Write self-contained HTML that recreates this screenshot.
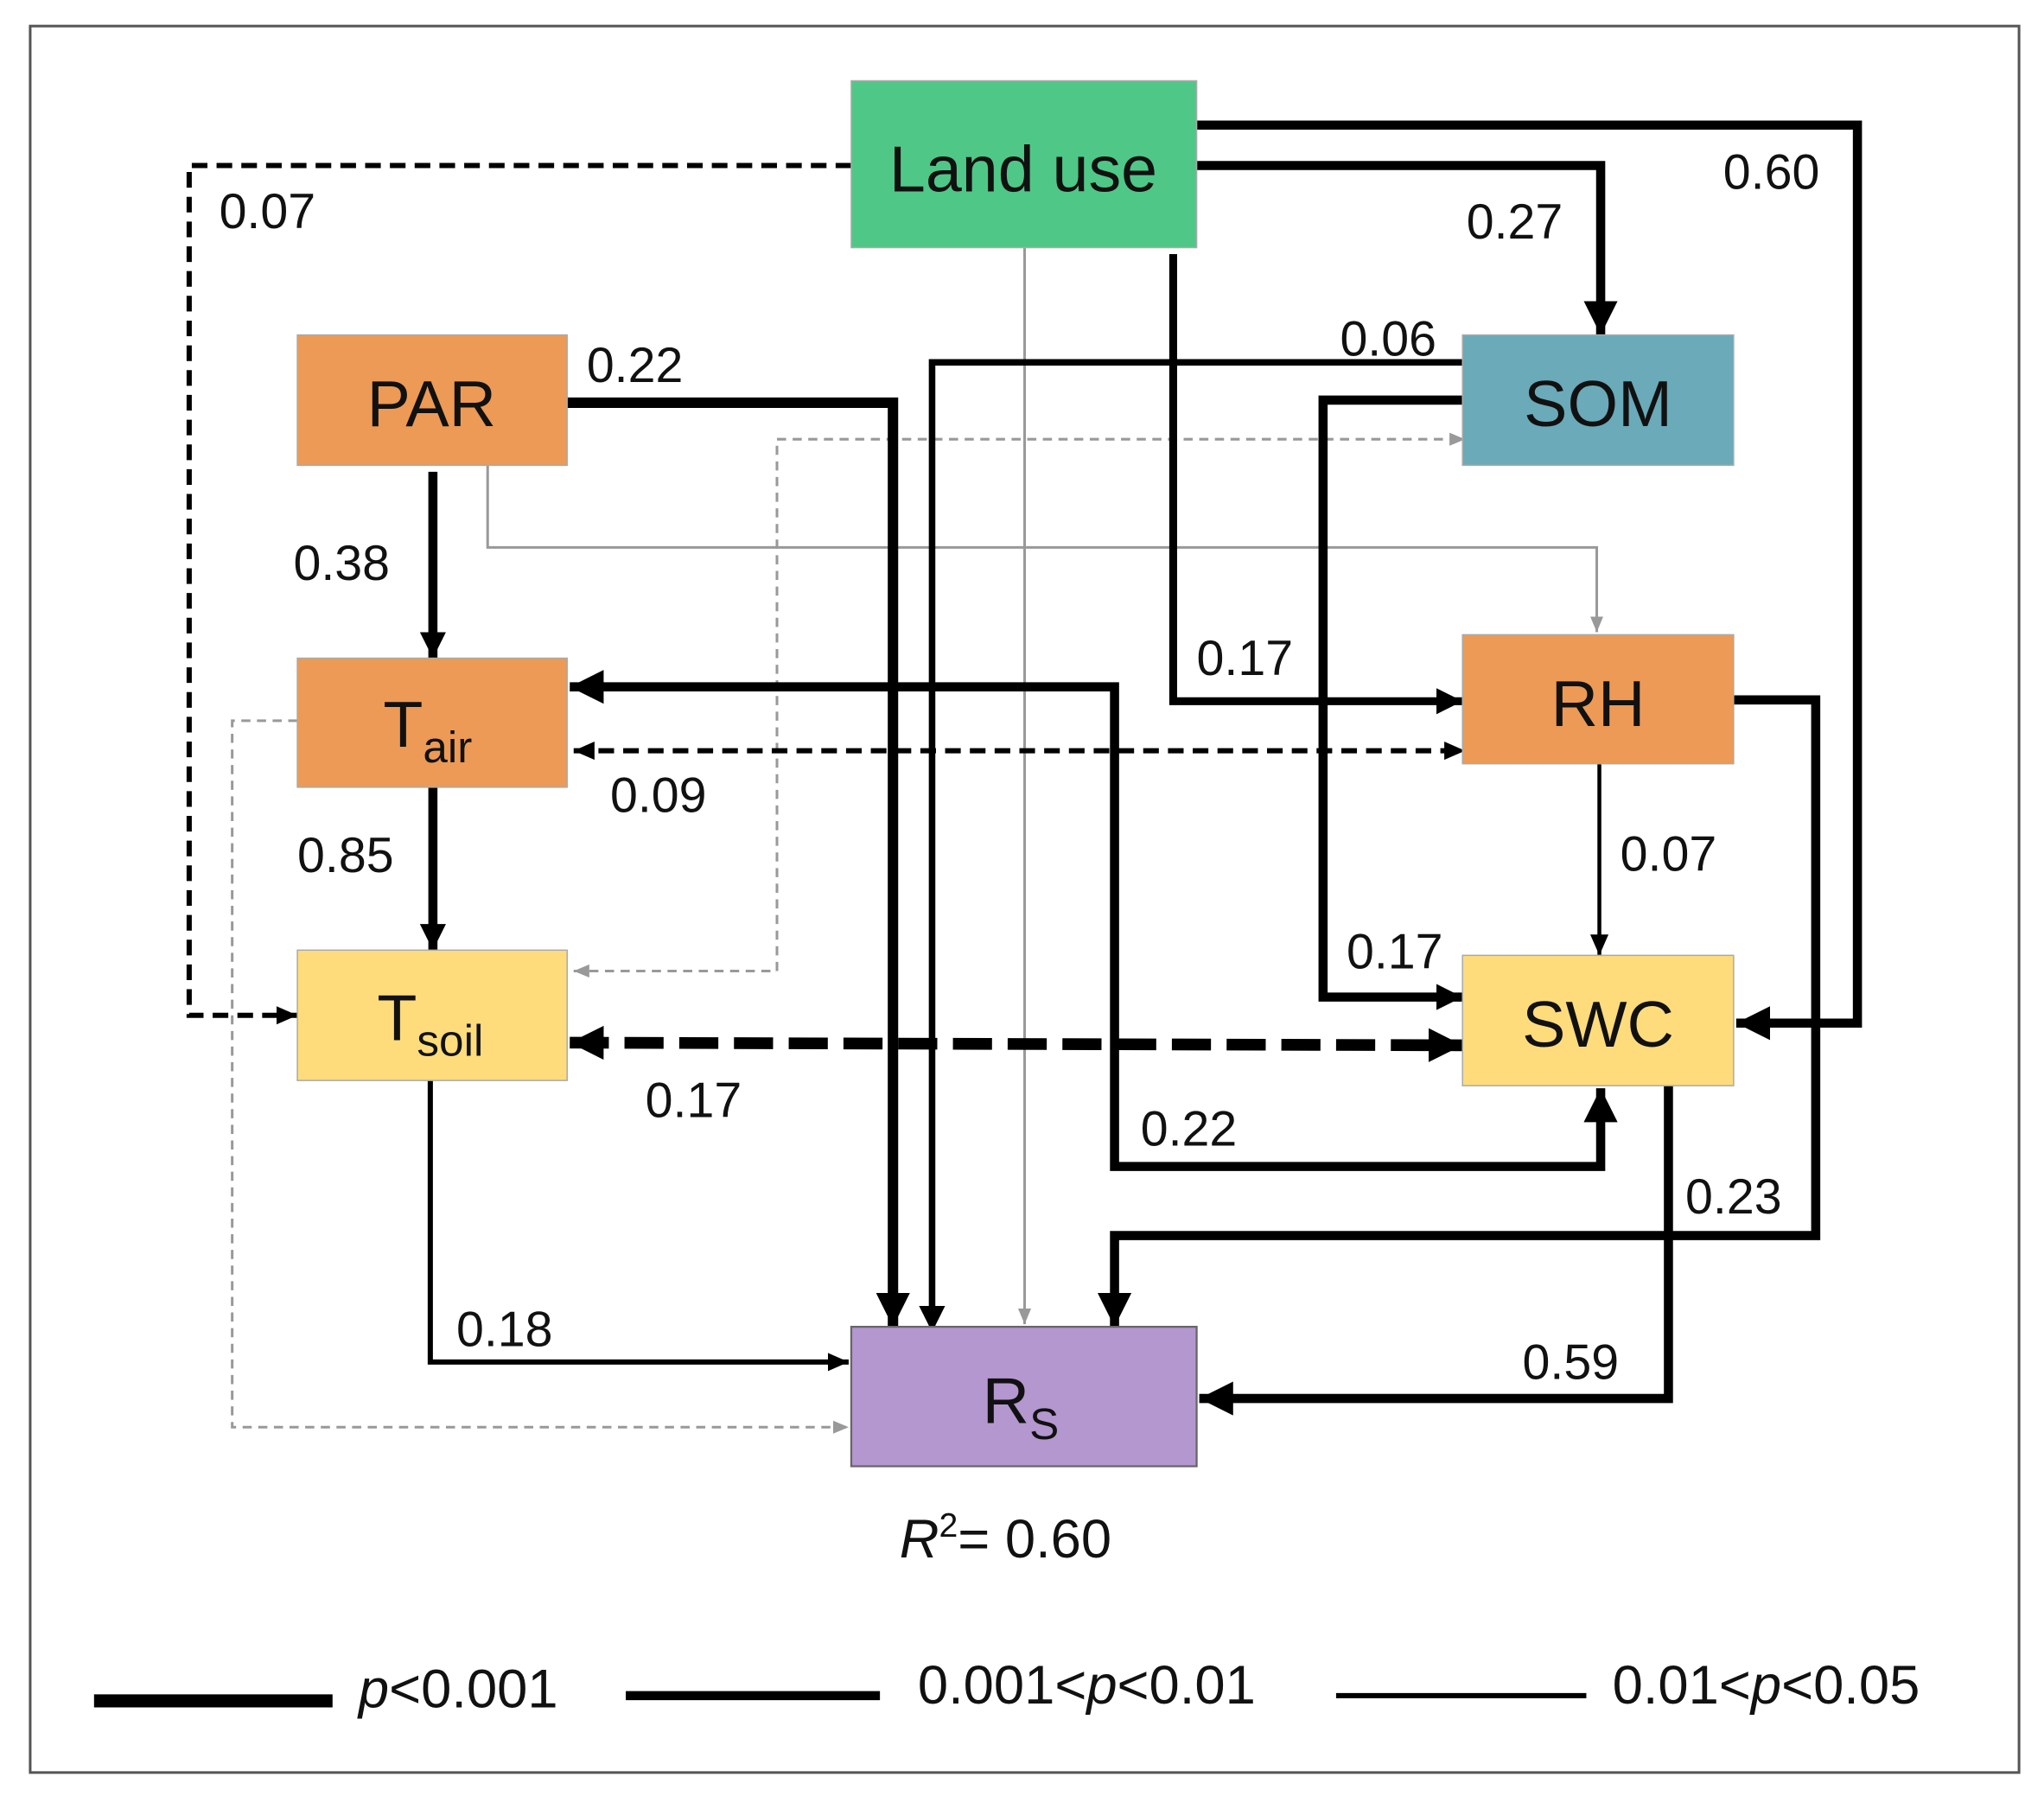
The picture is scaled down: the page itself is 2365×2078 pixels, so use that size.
<!DOCTYPE html>
<html><head><meta charset="utf-8"><style>
html,body{margin:0;padding:0;background:#fff;}
svg{display:block;}
text{font-family:"Liberation Sans",Arial,sans-serif;fill:#111;}
</style></head><body>
<svg width="2365" height="2078" viewBox="0 0 1568 1378" xmlns="http://www.w3.org/2000/svg">
<defs>
<marker id="aB" markerUnits="userSpaceOnUse" markerWidth="30" markerHeight="30" refX="26" refY="13" orient="auto-start-reverse"><path d="M0,0 L26,13 L0,26 Z" fill="#000"/></marker>
<marker id="aM" markerUnits="userSpaceOnUse" markerWidth="24" markerHeight="24" refX="20" refY="10" orient="auto-start-reverse"><path d="M0,0 L20,10 L0,20 Z" fill="#000"/></marker>
<marker id="aS" markerUnits="userSpaceOnUse" markerWidth="18" markerHeight="18" refX="16" refY="8" orient="auto-start-reverse"><path d="M0,1 L16,8 L0,15 Z" fill="#000"/></marker>
<marker id="aG" markerUnits="userSpaceOnUse" markerWidth="14" markerHeight="14" refX="12" refY="6" orient="auto-start-reverse"><path d="M0,1 L12,6 L0,11 Z" fill="#999"/></marker>
</defs>
<rect x="0" y="0" width="1568" height="1378" fill="#fff"/>
<rect x="23" y="20" width="1526" height="1340" fill="none" stroke="#555" stroke-width="2"/>

<!-- gray lines -->
<polyline points="786,190 786,1016" fill="none" stroke="#999" stroke-width="2" marker-end="url(#aG)"/>
<polyline points="374,357 374,420 1225,420 1225,485" fill="none" stroke="#999" stroke-width="2" marker-end="url(#aG)"/>
<polyline points="440,745 596,745 596,337 1124,337" fill="none" stroke="#999" stroke-width="2" stroke-dasharray="7,5" marker-start="url(#aG)" marker-end="url(#aG)"/>
<polyline points="228,553 178,553 178,1095 651,1095" fill="none" stroke="#999" stroke-width="2" stroke-dasharray="7,5" marker-end="url(#aG)"/>

<!-- black lines -->
<polyline points="653,127 145,127 145,779 228,779" fill="none" stroke="#000" stroke-width="4" stroke-dasharray="12,7" marker-end="url(#aS)"/>
<polyline points="918,96 1425,96 1425,785 1332,785" fill="none" stroke="#000" stroke-width="7" marker-end="url(#aB)"/>
<polyline points="918,127 1228,127 1228,257" fill="none" stroke="#000" stroke-width="7" marker-end="url(#aB)"/>
<polyline points="900,195 900,538 1122,538" fill="none" stroke="#000" stroke-width="6" marker-end="url(#aM)"/>
<polyline points="435,309 685,309 685,1018" fill="none" stroke="#000" stroke-width="8" marker-end="url(#aB)"/>
<polyline points="1122,278 715,278 715,1022" fill="none" stroke="#000" stroke-width="5" marker-end="url(#aM)"/>
<polyline points="1122,307 1015,307 1015,765 1122,765" fill="none" stroke="#000" stroke-width="7" marker-end="url(#aM)"/>
<polyline points="437,527 855,527 855,895 1228,895 1228,835" fill="none" stroke="#000" stroke-width="7" marker-start="url(#aB)" marker-end="url(#aB)"/>
<polyline points="440,576 1124,576" fill="none" stroke="#000" stroke-width="4" stroke-dasharray="12,7" marker-start="url(#aS)" marker-end="url(#aS)"/>
<polyline points="332,362 332,505" fill="none" stroke="#000" stroke-width="7" marker-end="url(#aM)"/>
<polyline points="332,604 332,729" fill="none" stroke="#000" stroke-width="7" marker-end="url(#aM)"/>
<polyline points="437,800 1122,802" fill="none" stroke="#000" stroke-width="9" stroke-dasharray="30,12" marker-start="url(#aB)" marker-end="url(#aB)"/>
<polyline points="330,829 330,1045 651,1045" fill="none" stroke="#000" stroke-width="4" marker-end="url(#aS)"/>
<polyline points="1227,586 1227,733" fill="none" stroke="#000" stroke-width="3" marker-end="url(#aS)"/>
<polyline points="1330,537 1393,537 1393,948 855,948 855,1018" fill="none" stroke="#000" stroke-width="7" marker-end="url(#aB)"/>
<polyline points="1280,833 1280,1073 920,1073" fill="none" stroke="#000" stroke-width="7" marker-end="url(#aB)"/>

<!-- boxes -->
<rect x="653" y="62" width="265" height="128" fill="#4fc787" stroke="#aaa" stroke-width="1"/>
<rect x="228" y="257" width="207" height="100" fill="#ec9a55" stroke="#aaa" stroke-width="1"/>
<rect x="1122" y="257" width="208" height="100" fill="#6aaab9" stroke="#aaa" stroke-width="1"/>
<rect x="228" y="505" width="207" height="99" fill="#ec9a55" stroke="#aaa" stroke-width="1"/>
<rect x="1122" y="487" width="208" height="99" fill="#ec9a55" stroke="#aaa" stroke-width="1"/>
<rect x="228" y="729" width="207" height="100" fill="#fedc7c" stroke="#aaa" stroke-width="1"/>
<rect x="1122" y="733" width="208" height="100" fill="#fedc7c" stroke="#aaa" stroke-width="1"/>
<rect x="653" y="1018" width="265" height="107" fill="#b497cf" stroke="#666" stroke-width="1.5"/>

<g font-size="50" text-anchor="middle">
<text x="785" y="147">Land use</text>
<text x="331" y="327">PAR</text>
<text x="1226" y="327">SOM</text>
<text x="1226" y="557">RH</text>
<text x="1226" y="803">SWC</text>
<text x="328" y="573">T<tspan font-size="34" dy="12">air</tspan></text>
<text x="330" y="798">T<tspan font-size="34" dy="12">soil</tspan></text>
<text x="783" y="1092">R<tspan font-size="34" dy="12">S</tspan></text>
</g>

<g font-size="38">
<text x="168" y="175">0.07</text>
<text x="1322" y="145">0.60</text>
<text x="1125" y="183">0.27</text>
<text x="450" y="293">0.22</text>
<text x="1028" y="273">0.06</text>
<text x="225" y="445">0.38</text>
<text x="918" y="518">0.17</text>
<text x="468" y="623">0.09</text>
<text x="228" y="669">0.85</text>
<text x="1243" y="668">0.07</text>
<text x="1033" y="743">0.17</text>
<text x="495" y="857">0.17</text>
<text x="875" y="879">0.22</text>
<text x="1293" y="931">0.23</text>
<text x="350" y="1033">0.18</text>
<text x="1168" y="1058">0.59</text>
<text x="690" y="1195" font-size="42"><tspan font-style="italic">R</tspan><tspan font-size="26" dy="-16">2</tspan><tspan dy="16">= 0.60</tspan></text>
</g>

<!-- legend -->
<line x1="72" y1="1305" x2="255" y2="1305" stroke="#000" stroke-width="10"/>
<text x="275" y="1310" font-size="42"><tspan font-style="italic">p</tspan>&lt;0.001</text>
<line x1="480" y1="1301" x2="675" y2="1301" stroke="#000" stroke-width="7"/>
<text x="704" y="1307" font-size="42">0.001&lt;<tspan font-style="italic">p</tspan>&lt;0.01</text>
<line x1="1025" y1="1301" x2="1217" y2="1301" stroke="#000" stroke-width="4"/>
<text x="1237" y="1307" font-size="42">0.01&lt;<tspan font-style="italic">p</tspan>&lt;0.05</text>
</svg>
</body></html>
